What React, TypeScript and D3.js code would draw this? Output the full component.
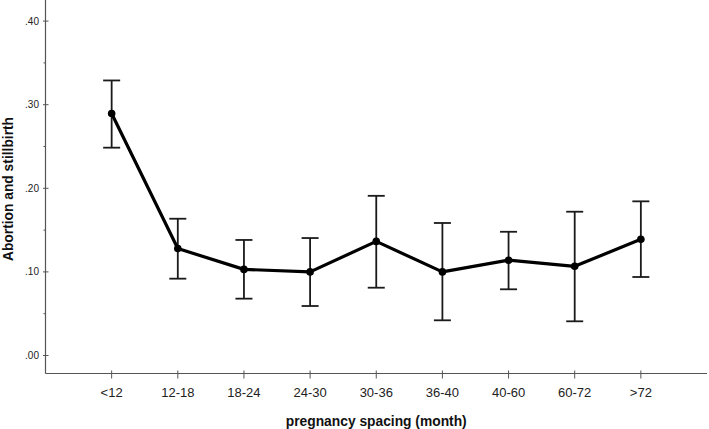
import React from 'react';
import * as d3 from 'd3';

// pregnancy spacing groups and mean (95% CI) of abortion and stillbirth
const categories = ['<12', '12-18', '18-24', '24-30', '30-36', '36-40', '40-60', '60-72', '>72'];
const means = [0.2895, 0.128, 0.103, 0.1, 0.1365, 0.1, 0.114, 0.1067, 0.139];
const upper = [0.329, 0.1636, 0.1382, 0.1405, 0.191, 0.1585, 0.148, 0.172, 0.1844];
const lower = [0.2486, 0.0919, 0.068, 0.0592, 0.0811, 0.0421, 0.0792, 0.0409, 0.0939];
const yTicks = [0, 0.1, 0.2, 0.3, 0.4];
const yMinorTicks = [0.05, 0.15, 0.25, 0.35];

const width = 709;
const height = 429;
const left = 45.5;
const right = 707;
const axisY = 373.5;

const App: React.FC = () => {
  const x = d3.scalePoint<string>().domain(categories).range([left, right]).padding(1);
  const y = d3.scaleLinear().domain([0, 0.1]).range([355.5, 271.9]);

  const line = d3.line<number>()
    .x((_, i) => x(categories[i]) as number)
    .y(d => y(d));

  const font = '"Liberation Sans", Arial, sans-serif';
  const axisColor = '#555';
  const cap = 8.5;

  return (
    <svg width={width} height={height}
      style={{ position: 'absolute', left: 0, top: 0, background: '#fff' }}
      fontFamily={font}>
      {/* axes */}
      <line x1={left} x2={left} y1={0} y2={axisY} stroke={axisColor} strokeWidth={1.2} />
      <line x1={left} x2={right} y1={axisY} y2={axisY} stroke={axisColor} strokeWidth={1.2} />

      {yTicks.map(t => (
        <g key={t}>
          <line x1={left - 2.5} x2={left + 3} y1={y(t)} y2={y(t)} stroke={axisColor} strokeWidth={1} />
          <text x={39} y={y(t)} dy="0.35em" textAnchor="end" fontSize={10} fill="#222">
            {d3.format('.2f')(t).replace(/^0/, '')}
          </text>
        </g>
      ))}
      {yMinorTicks.map(t => (
        <line key={t} x1={left - 2} x2={left} y1={y(t)} y2={y(t)} stroke={axisColor} strokeWidth={1} />
      ))}

      {categories.map(c => (
        <g key={c}>
          <line x1={x(c)} x2={x(c)} y1={axisY - 3} y2={axisY + 5} stroke={axisColor} strokeWidth={1} />
          <text x={x(c)} y={397} textAnchor="middle" fontSize={13} fill="#222">{c}</text>
        </g>
      ))}

      {/* error bars */}
      {categories.map((c, i) => {
        const cx = x(c) as number;
        return (
          <g key={'e' + c} stroke="#1a1a1a" strokeWidth={1.8}>
            <line x1={cx} x2={cx} y1={y(upper[i])} y2={y(lower[i])} />
            <line x1={cx - cap} x2={cx + cap} y1={y(upper[i])} y2={y(upper[i])} />
            <line x1={cx - cap} x2={cx + cap} y1={y(lower[i])} y2={y(lower[i])} />
          </g>
        );
      })}

      <path d={line(means) || ''} fill="none" stroke="#000" strokeWidth={3.2} strokeLinejoin="round" />
      {means.map((m, i) => (
        <circle key={'p' + i} cx={x(categories[i])} cy={y(m)} r={3.8} fill="#000" />
      ))}

      {/* titles */}
      <text x={(left + right) / 2} y={426} textAnchor="middle" fontSize={13.8} fontWeight="bold" fill="#111">
        pregnancy spacing (month)
      </text>
      <text transform={`translate(13,189) rotate(-90)`} textAnchor="middle" fontSize={13.8} fontWeight="bold" fill="#111">
        Abortion and stillbirth
      </text>
    </svg>
  );
};

export default App;
